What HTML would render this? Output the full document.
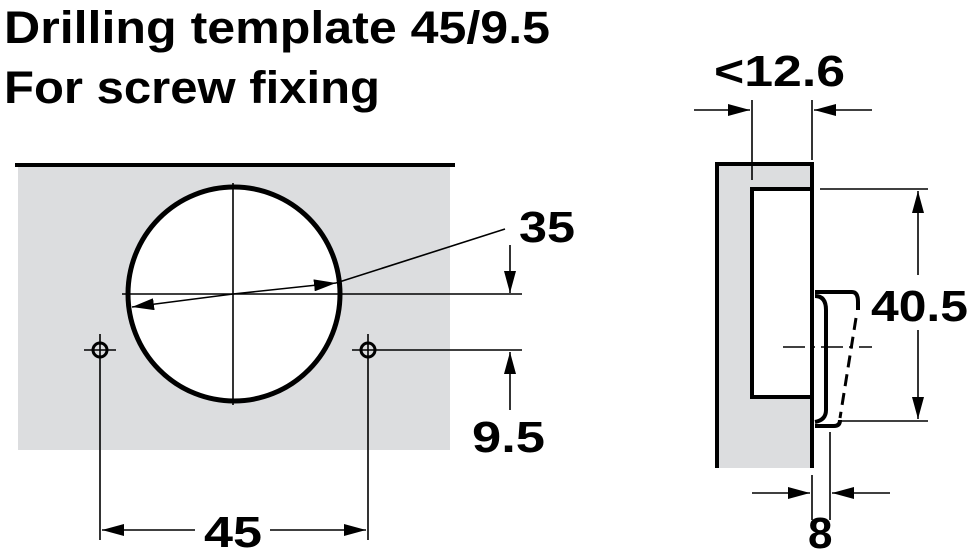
<!DOCTYPE html>
<html><head><meta charset="utf-8"><style>body{margin:0;background:#fff}svg{display:block}</style></head><body>
<svg width="975" height="558" viewBox="0 0 975 558" xmlns="http://www.w3.org/2000/svg" font-family="Liberation Sans, Arial, sans-serif" font-weight="bold">
<defs><marker id="a" viewBox="0 0 22 12" refX="22" refY="6" markerWidth="22" markerHeight="12" markerUnits="userSpaceOnUse" orient="auto"><path d="M0 0L22 6L0 12z" fill="#000"/></marker></defs>
<text x="4" y="43" font-size="45" textLength="546" lengthAdjust="spacingAndGlyphs">Drilling template 45/9.5</text>
<text x="4" y="103" font-size="45" textLength="376" lengthAdjust="spacingAndGlyphs">For screw fixing</text>
<!-- left panel -->
<rect x="18" y="165" width="432" height="285" fill="#dcdddf"/>
<line x1="15" y1="165" x2="455" y2="165" stroke="#000" stroke-width="4"/>
<ellipse cx="234" cy="294" rx="106" ry="107" fill="#fff" stroke="#000" stroke-width="5"/>
<g stroke="#000" stroke-width="1.6" fill="none">
<line x1="233" y1="183" x2="233" y2="405"/>
<line x1="122" y1="294" x2="522" y2="294"/>
<line x1="505" y1="229" x2="336" y2="283"/>
<line x1="233" y1="294" x2="336" y2="283" marker-end="url(#a)"/>
<line x1="233" y1="294" x2="132" y2="307" marker-end="url(#a)"/>
<line x1="510" y1="245" x2="510" y2="293" marker-end="url(#a)"/>
<line x1="376" y1="350" x2="522" y2="350"/>
<line x1="510" y1="410" x2="510" y2="352" marker-end="url(#a)"/>
<line x1="100" y1="356" x2="100" y2="540"/>
<line x1="368" y1="356" x2="368" y2="540"/>
<line x1="195" y1="530" x2="102" y2="530" marker-end="url(#a)"/>
<line x1="270" y1="530" x2="366" y2="530" marker-end="url(#a)"/>
<line x1="84" y1="350" x2="116" y2="350"/><line x1="100" y1="334" x2="100" y2="358"/>
<line x1="352" y1="350" x2="376" y2="350"/><line x1="368" y1="334" x2="368" y2="358"/>
</g>
<circle cx="100" cy="350" r="7" fill="none" stroke="#000" stroke-width="3"/>
<circle cx="368" cy="350" r="7" fill="none" stroke="#000" stroke-width="3"/>
<text x="519" y="242" font-size="44" textLength="56" lengthAdjust="spacingAndGlyphs">35</text>
<text x="472" y="452" font-size="44" textLength="73" lengthAdjust="spacingAndGlyphs">9.5</text>
<text x="204" y="547" font-size="44" textLength="58" lengthAdjust="spacingAndGlyphs">45</text>
<!-- right panel -->
<rect x="717" y="164" width="95" height="304" fill="#dcdddf"/>
<rect x="752" y="189" width="60" height="208" fill="#fff" stroke="#000" stroke-width="4"/>
<g stroke="#000" stroke-width="4" fill="none">
<path d="M717 468V164H812V468"/>
<path d="M815 292H852Q858 292 858 302V310"/>
<path d="M815 296Q826 296 826 310V410Q826 420 815 422"/>
<path d="M815 426H834Q840 426 840 420"/>
</g>
<g stroke="#000" stroke-width="1.6" fill="none">
<line x1="752" y1="100" x2="752" y2="180"/>
<line x1="812" y1="100" x2="812" y2="160"/>
<line x1="694" y1="110" x2="750" y2="110" marker-end="url(#a)"/>
<line x1="872" y1="110" x2="814" y2="110" marker-end="url(#a)"/>
<line x1="820" y1="189" x2="928" y2="189"/>
<line x1="840" y1="421" x2="928" y2="421"/>
<line x1="918" y1="275" x2="918" y2="191" marker-end="url(#a)"/>
<line x1="918" y1="330" x2="918" y2="419" marker-end="url(#a)"/>
<line x1="783" y1="347" x2="872" y2="347" stroke-dasharray="22 6 4 6"/>
<line x1="812" y1="475" x2="812" y2="520"/>
<line x1="830" y1="432" x2="830" y2="520"/>
<line x1="752" y1="493" x2="810" y2="493" marker-end="url(#a)"/>
<line x1="890" y1="493" x2="832" y2="493" marker-end="url(#a)"/>
</g>
<line x1="856" y1="318" x2="840" y2="418" stroke="#000" stroke-width="3" stroke-dasharray="12 7"/>
<text x="714" y="86" font-size="44" textLength="131" lengthAdjust="spacingAndGlyphs">&lt;12.6</text>
<text x="871" y="321" font-size="44" textLength="97" lengthAdjust="spacingAndGlyphs">40.5</text>
<text x="808" y="548" font-size="44">8</text>
</svg>
</body></html>
